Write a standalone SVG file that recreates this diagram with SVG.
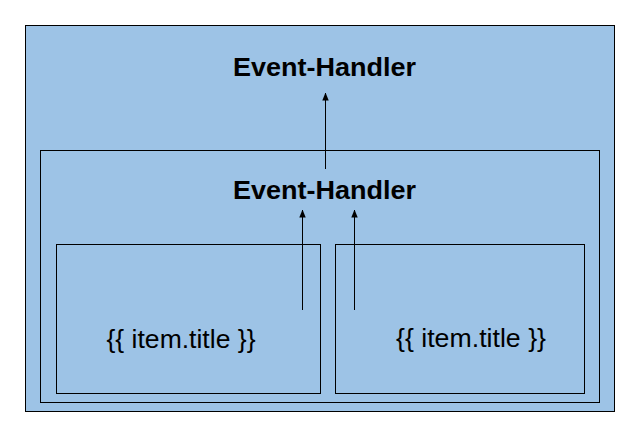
<svg xmlns="http://www.w3.org/2000/svg" width="641" height="441" viewBox="0 0 641 441">
<style>
.box{fill:#9DC3E6;stroke:#000;stroke-width:1}
.h{font-family:"Liberation Sans",Arial,sans-serif;font-weight:bold;font-size:25.5px;fill:#000}
.t{font-family:"Liberation Sans",Arial,sans-serif;font-size:26px;fill:#000}
.c{stroke:#000;stroke-width:1;fill:none;marker-end:url(#ah)}
</style>
<defs>
<marker id="ah" viewBox="0 0 8 8" refX="7.5" refY="4" markerWidth="8" markerHeight="8" markerUnits="userSpaceOnUse" orient="auto">
<path d="M0,0.8 L8,4 L0,7.2 Z" fill="#000"/>
</marker>
</defs>
<rect width="641" height="441" fill="#fff"/>
<g id="outer">
<rect class="box" x="25.5" y="25.5" width="589" height="386"/>
<text class="h" x="233" y="76" textLength="183" lengthAdjust="spacingAndGlyphs">Event-Handler</text>
</g>
<g id="middle">
<rect class="box" x="40.5" y="150.5" width="559" height="252"/>
<text class="h" x="233" y="199" textLength="183" lengthAdjust="spacingAndGlyphs">Event-Handler</text>
</g>
<g id="item-left">
<rect class="box" x="56.5" y="244.5" width="264" height="149"/>
<text class="t" x="106.5" y="348" textLength="149" lengthAdjust="spacingAndGlyphs">{{ item.title }}</text>
</g>
<g id="item-right">
<rect class="box" x="335.5" y="244.5" width="249" height="149"/>
<text class="t" x="396" y="347" textLength="150" lengthAdjust="spacingAndGlyphs">{{ item.title }}</text>
</g>
<g id="connectors">
<line class="c" x1="325.5" y1="169" x2="325.5" y2="93"/>
<line class="c" x1="302.5" y1="310" x2="302.5" y2="210"/>
<line class="c" x1="354.5" y1="310" x2="354.5" y2="210"/>
</g>
</svg>
